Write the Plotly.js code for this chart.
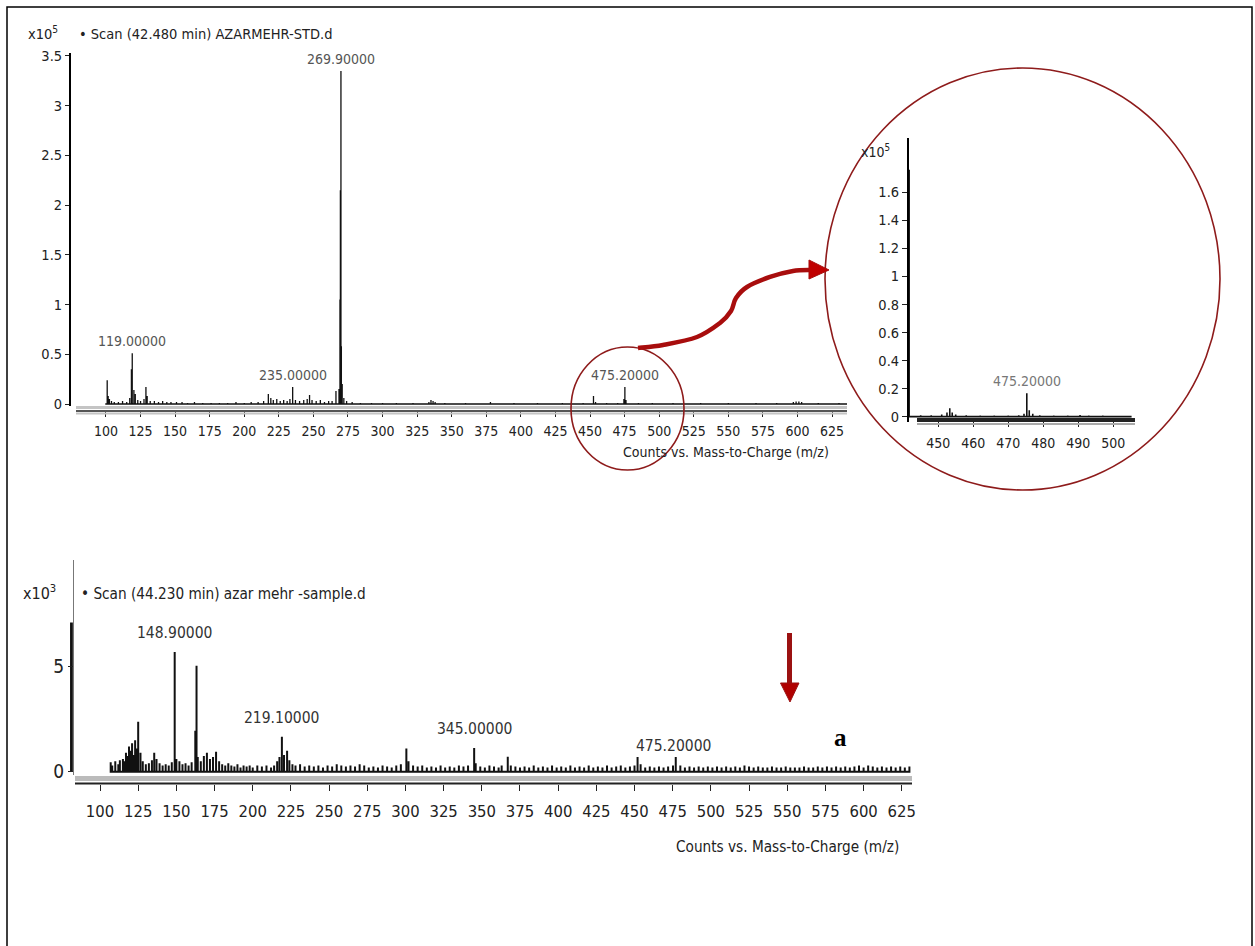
<!DOCTYPE html>
<html>
<head>
<meta charset="utf-8">
<script src="https://cdn.plot.ly/plotly-3.0.1.min.js"></script>
<style>html,body{margin:0;padding:0;background:#fff;}#chart{width:1255px;height:946px;}</style>
</head>
<body>
<div id="chart"></div>
<script>
// ---------- DATA ----------
// Standard (AZARMEHR-STD.d), counts x10^5
const stdMz  = [99.5,100.9,101.6,102.5,104,106,109,112,115,117.2,118.4,119.0,120.2,121.2,123,125,127.5,128.9,129.8,132,135,138,141,144,147,151,155,159,164,170,176,182,188,194,200,205,210,214,217.4,219.2,221,223.5,226,228.5,231,233,235.0,237,240,243,245.5,247.2,249,252,255,258,261,263.5,266.3,268.5,269.2,269.5,269.9,270.2,270.8,272,274,278,284,292,300,310,322,333.5,335,336.5,338,345,360,378,395,412,430,445,452.5,454,462,470,474.5,475.2,476,485,495,510,530,550,570,585,597,599,601,603,615,630,636];
const stdInt = [0,0.24,0.08,0.05,0.03,0.02,0.02,0.03,0.02,0.06,0.35,0.51,0.14,0.10,0.04,0.03,0.05,0.17,0.08,0.03,0.03,0.02,0.03,0.02,0.02,0.02,0.02,0.01,0.02,0.01,0.01,0.01,0.01,0.02,0.01,0.02,0.02,0.03,0.10,0.06,0.04,0.05,0.03,0.04,0.03,0.05,0.17,0.04,0.03,0.04,0.05,0.09,0.04,0.03,0.04,0.02,0.03,0.03,0.13,0.15,1.05,2.15,3.35,0.58,0.20,0.06,0.03,0.02,0.01,0.01,0.01,0.01,0.01,0.02,0.04,0.03,0.02,0.01,0.01,0.02,0.01,0.01,0.01,0.01,0.08,0.02,0.01,0.01,0.05,0.17,0.04,0.01,0.01,0.01,0.01,0.01,0.01,0.01,0.02,0.025,0.025,0.02,0.01,0.01,0];
const stdLabels = [119.0, 235.0, 269.9, 475.2];
const stdLabelText = ["119.00000", "235.00000", "269.90000", "475.20000"];

// Inset (zoom 445-505 of standard), counts x10^5
const insetMz  = [441.7,445,448,451,452.5,453.3,454,455,458,462,466,470,473,474.5,475.3,476,477,479,483,487,490.5,493,497,501,505];
const insetInt = [1.76,0.01,0.01,0.015,0.03,0.06,0.03,0.015,0.01,0.008,0.008,0.008,0.01,0.02,0.167,0.045,0.02,0.01,0.008,0.008,0.012,0.008,0.008,0.006,0.006];
const insetLabels = [475.3];
const insetLabelText = ["475.20000"];

// Sample (azar mehr -sample.d), counts x10^3
const sampleEdgeMz  = [81.3];
const sampleEdgeInt = [7.1];
const sampleMz  = [107,108,110,112,113,115,116,117,118,119,120,121,122,123,124,125.0,126.5,128,130,132,134,135.5,137,139,141,143,145,147,148.9,150,152,154,156,158,160,162.4,163.2,164,166,168,170,172,174,176,178,180,182,184,186,188,190,192,194,196,198,200,203,206,209,212,214,216,217.5,219.1,220.5,222.5,224,226,228,231,234,237,240,243,246,249,252,255,258,261,264,267,270,273,276,279,282,285,288,291,294,297,300.6,302,305,308,311,314,317,320,323,326,329,332,335,338,341,345.0,346,349,352,355,358,361,363,367,369,372,375,378,381,384,387,390,393,396,399,402,405,408,411,414,417,420,423,426,429,432,435,438,441,444,447,450,452,454,457,460,463,466,469,472,475.2,477,480,483,486,489,492,495,498,501,504,507,510,513,516,519,522,525,528,531,534,537,540,543,546,549,552,555,558,561,564,567,570,573,576,579,582,585,588,591,594,597,600,603,606,609,612,615,618,621,624,627,630];
const sampleInt = [0.45,0.3,0.5,0.35,0.55,0.6,0.5,0.9,0.75,1.2,1.0,1.35,0.8,1.5,1.1,2.38,0.9,0.5,0.35,0.4,0.55,0.9,0.6,0.4,0.3,0.35,0.3,0.45,5.7,0.6,0.5,0.35,0.4,0.3,0.45,1.95,5.05,0.7,0.5,0.75,0.9,0.6,0.7,0.95,0.5,0.35,0.3,0.4,0.3,0.25,0.35,0.2,0.3,0.25,0.3,0.2,0.3,0.25,0.3,0.2,0.3,0.5,0.7,1.67,0.8,1.0,0.55,0.35,0.3,0.35,0.25,0.3,0.25,0.3,0.2,0.3,0.25,0.35,0.3,0.25,0.3,0.25,0.35,0.3,0.2,0.25,0.2,0.3,0.25,0.2,0.3,0.35,1.1,0.5,0.3,0.25,0.3,0.2,0.25,0.2,0.3,0.2,0.25,0.2,0.3,0.25,0.3,1.13,0.4,0.25,0.2,0.3,0.25,0.2,0.3,0.71,0.3,0.25,0.2,0.25,0.2,0.3,0.2,0.25,0.2,0.3,0.2,0.25,0.2,0.3,0.2,0.25,0.2,0.3,0.2,0.25,0.2,0.3,0.2,0.25,0.3,0.2,0.25,0.3,0.7,0.35,0.2,0.25,0.2,0.25,0.2,0.25,0.3,0.7,0.3,0.2,0.25,0.2,0.25,0.2,0.25,0.2,0.25,0.2,0.25,0.2,0.25,0.2,0.3,0.25,0.2,0.25,0.2,0.2,0.25,0.2,0.2,0.25,0.2,0.2,0.2,0.25,0.2,0.2,0.25,0.2,0.25,0.2,0.25,0.2,0.25,0.2,0.25,0.3,0.2,0.3,0.25,0.2,0.25,0.2,0.25,0.2,0.25,0.2,0.25,0.2];
const sampleLabels = [148.9, 219.1, 345.0, 475.2];
const sampleLabelText = ["148.90000", "219.10000", "345.00000", "475.20000"];

const topTicks = [100,125,150,175,200,225,250,275,300,325,350,375,400,425,450,475,500,525,550,575,600,625];
const topYTicks = [0,0.5,1,1.5,2,2.5,3,3.5];
const topYText = ["0","0.5","1","1.5","2","2.5","3","3.5"];
const insetTicks = [450,460,470,480,490,500];
const insetYTicks = [0,0.2,0.4,0.6,0.8,1,1.2,1.4,1.6];
const insetYText = ["0","0.2","0.4","0.6","0.8","1","1.2","1.4","1.6"];
const bottomYTicks = [0,5];
const bottomYText = ["0","5"];

// ---------- helpers ----------
const W = 1255, H = 946;
const px = v => v / W;
const py = v => 1 - v / H;
const FONT = "DejaVu Sans Condensed, Liberation Sans Narrow, Arial Narrow, sans-serif";
function profile(mz, it) {
  const x = [], y = [];
  for (let i = 0; i < mz.length; i++) { x.push(mz[i], mz[i], mz[i]); y.push(0, it[i], 0); }
  return {x, y};
}
function lookup(mz, it, m) {
  let best = 0, d = 1e9;
  for (let i = 0; i < mz.length; i++) { const dd = Math.abs(mz[i] - m); if (dd < d) { d = dd; best = i; } }
  return it[best];
}
const RED = "#8e1b1b";

const pStd = profile(stdMz, stdInt);
const pIns = profile(insetMz, insetInt);
const pSam = profile(sampleMz, sampleInt);
const pEdge = profile(sampleEdgeMz, sampleEdgeInt);

const traces = [
  {x: pStd.x, y: pStd.y, xaxis: "x", yaxis: "y", type: "scatter", mode: "lines", line: {color: "#111", width: 1.3, simplify: false}, hoverinfo: "skip"},
  {x: pIns.x, y: pIns.y, xaxis: "x3", yaxis: "y3", type: "scatter", mode: "lines", line: {color: "#111", width: 1.6, simplify: false}, hoverinfo: "skip"},
  {x: pSam.x, y: pSam.y, xaxis: "x2", yaxis: "y2", type: "scatter", mode: "lines", line: {color: "#111", width: 2, simplify: false}, hoverinfo: "skip"},
  {x: pEdge.x, y: pEdge.y, xaxis: "x2", yaxis: "y2", type: "scatter", mode: "lines", line: {color: "#111", width: 2.8, simplify: false}, hoverinfo: "skip"}
];

const annotations = [];
function addLabels(mzs, texts, mzArr, itArr, xr, yr, size, color, shift) {
  mzs.forEach((m, i) => annotations.push({
    x: m, y: lookup(mzArr, itArr, m), xref: xr, yref: yr, text: texts[i], showarrow: false,
    xanchor: "center", yanchor: "bottom", yshift: shift, font: {family: FONT, size: size, color: color}
  }));
}
addLabels(stdLabels, stdLabelText, stdMz, stdInt, "x", "y", 14, "#555", 2);
addLabels(insetLabels, insetLabelText, insetMz, insetInt, "x3", "y3", 14, "#777", 2);
addLabels(sampleLabels, sampleLabelText, sampleMz, sampleInt, "x2", "y2", 15.5, "#333", 8);

function paperText(x, y, text, size, xanchor, opts) {
  annotations.push(Object.assign({x: px(x), y: py(y), xref: "paper", yref: "paper", text: text, showarrow: false,
    xanchor: xanchor, yanchor: "middle", font: {family: FONT, size: size, color: "#222"}}, opts || {}));
}
paperText(26, 33, "x10<sup>5</sup>", 14.5, "left");
paperText(77, 34, "• Scan (42.480 min) AZARMEHR-STD.d", 14.5, "left");
paperText(831, 452, "Counts vs. Mass-to-Charge (m/z)", 14, "right");
paperText(859, 151, "x10<sup>5</sup>", 14, "left");
paperText(21, 592, "x10<sup>3</sup>", 16, "left");
paperText(79, 594, "• Scan (44.230 min) azar mehr -sample.d", 15.2, "left");
paperText(901, 847, "Counts vs. Mass-to-Charge (m/z)", 15.2, "right");
paperText(840, 737, "<b>a</b>", 25, "center", {font: {family: "Liberation Serif, Times New Roman, serif", size: 25, color: "#000"}});

function P(pts) { return pts.map((p, i) => (i ? "L" : "M") + px(p[0]).toFixed(5) + "," + py(p[1]).toFixed(5)).join(" "); }
function C(pts) { // smooth curve through points (Catmull-Rom -> Bezier)
  let d = "M" + px(pts[0][0]).toFixed(5) + "," + py(pts[0][1]).toFixed(5);
  for (let i = 0; i < pts.length - 1; i++) {
    const p0 = pts[Math.max(0, i - 1)], p1 = pts[i], p2 = pts[i + 1], p3 = pts[Math.min(pts.length - 1, i + 2)];
    const c1 = [p1[0] + (p2[0] - p0[0]) / 6, p1[1] + (p2[1] - p0[1]) / 6];
    const c2 = [p2[0] - (p3[0] - p1[0]) / 6, p2[1] - (p3[1] - p1[1]) / 6];
    d += " C" + [c1, c2, p2].map(q => px(q[0]).toFixed(5) + "," + py(q[1]).toFixed(5)).join(" ");
  }
  return d;
}

const shapes = [
  // outer frame
  {type: "rect", xref: "paper", yref: "paper", x0: px(7), x1: px(1252), y0: py(960), y1: py(7), line: {color: "#000", width: 1.5}},
  // top x-axis double line
  {type: "line", xref: "paper", yref: "paper", x0: px(76), x1: px(847), y0: py(407.5), y1: py(407.5), line: {color: "#c4c4c4", width: 3}},
  {type: "line", xref: "paper", yref: "paper", x0: px(76), x1: px(847), y0: py(411), y1: py(411), line: {color: "#555", width: 2}},
  {type: "line", xref: "paper", yref: "paper", x0: px(76), x1: px(847), y0: py(413.5), y1: py(413.5), line: {color: "#c4c4c4", width: 2}},
  // bottom x-axis double line
  {type: "line", xref: "paper", yref: "paper", x0: px(75), x1: px(912), y0: py(778.5), y1: py(778.5), line: {color: "#bbb", width: 5}},
  {type: "line", xref: "paper", yref: "paper", x0: px(75), x1: px(912), y0: py(783.5), y1: py(783.5), line: {color: "#222", width: 2}},
  // inset x-axis
  {type: "line", xref: "paper", yref: "paper", x0: px(917), x1: px(1135), y0: py(420), y1: py(420), line: {color: "#222", width: 4}},
  {type: "line", xref: "paper", yref: "paper", x0: px(917), x1: px(1135), y0: py(424), y1: py(424), line: {color: "#aaa", width: 2}},
  // circles
  {type: "circle", xref: "paper", yref: "paper", x0: px(825), x1: px(1220), y0: py(490), y1: py(68), line: {color: RED, width: 1.6}},
  {type: "circle", xref: "paper", yref: "paper", x0: px(571), x1: px(684), y0: py(470), y1: py(347), line: {color: RED, width: 1.6}},
  // curvy arrow
  {type: "path", xref: "paper", yref: "paper", path: C([[638,348],[663,345],[697,337],[720,323],[731,311],[736,298],[747,287],[770,277],[793,271],[812,270]]), line: {color: "#a80d0d", width: 4.5}},
  {type: "path", xref: "paper", yref: "paper", path: P([[809,260],[829,270],[809,279]]) + " Z", fillcolor: "#c00000", line: {color: "#a80d0d", width: 1}},
  // down arrow
  {type: "line", xref: "paper", yref: "paper", x0: px(789.5), x1: px(789.5), y0: py(633), y1: py(686), line: {color: "#9b1111", width: 5}},
  {type: "path", xref: "paper", yref: "paper", path: P([[780.5,683],[799,683],[790,702]]) + " Z", fillcolor: "#b00000", line: {color: "#9b1111", width: 1}}
];

const tickFont = s => ({family: FONT, size: s, color: "#222"});
const layout = {
  width: W, height: H, margin: {l: 0, r: 0, t: 0, b: 0}, paper_bgcolor: "#fff", plot_bgcolor: "rgba(0,0,0,0)",
  showlegend: false,
  xaxis: {domain: [px(70), px(847)], range: [74.0, 635.8], anchor: "free", position: py(411), showline: false, showgrid: false, zeroline: false,
          tickmode: "array", tickvals: topTicks, ticks: "outside", ticklen: 5, tickcolor: "#222", tickfont: tickFont(14), ticklabelstandoff: 2},
  yaxis: {domain: [py(406), py(53)], range: [-0.02, 3.53], anchor: "free", position: px(70), showline: true, linecolor: "#000", linewidth: 2,
          showgrid: false, zeroline: false, tickmode: "array", tickvals: topYTicks, ticktext: topYText, ticks: "outside", ticklen: 4, tickcolor: "#222", tickfont: tickFont(14.5)},
  xaxis2: {domain: [px(70), px(912)], range: [80.35, 631.7], anchor: "free", position: py(783.5), showline: false, showgrid: false, zeroline: false,
          tickmode: "array", tickvals: topTicks, ticks: "outside", ticklen: 6, tickcolor: "#222", tickfont: tickFont(16.5), ticklabelstandoff: 7},
  yaxis2: {domain: [py(775), py(560)], range: [-0.157, 10.08], anchor: "free", position: px(73), showline: true, linecolor: "#777", linewidth: 1.2,
          showgrid: false, zeroline: false, tickmode: "array", tickvals: bottomYTicks, ticktext: bottomYText, ticks: "outside", ticklen: 5, tickcolor: "#222", tickfont: tickFont(19)},
  xaxis3: {domain: [px(906), px(1135)], range: [440.8, 506.2], anchor: "free", position: py(421), showline: false, showgrid: false, zeroline: false,
          tickmode: "array", tickvals: insetTicks, ticks: "outside", ticklen: 5, tickcolor: "#222", tickfont: tickFont(14), ticklabelstandoff: 4},
  yaxis3: {domain: [py(421.7), py(138)], range: [-0.036, 1.987], anchor: "free", position: px(907), showline: true, linecolor: "#000", linewidth: 1.5,
          showgrid: false, zeroline: false, tickmode: "array", tickvals: insetYTicks, ticktext: insetYText, ticks: "outside", ticklen: 5, tickcolor: "#222", tickfont: tickFont(14.5)},
  shapes: shapes,
  annotations: annotations
};

Plotly.newPlot("chart", traces, layout, {displayModeBar: false, staticPlot: true});
</script>
</body>
</html>
